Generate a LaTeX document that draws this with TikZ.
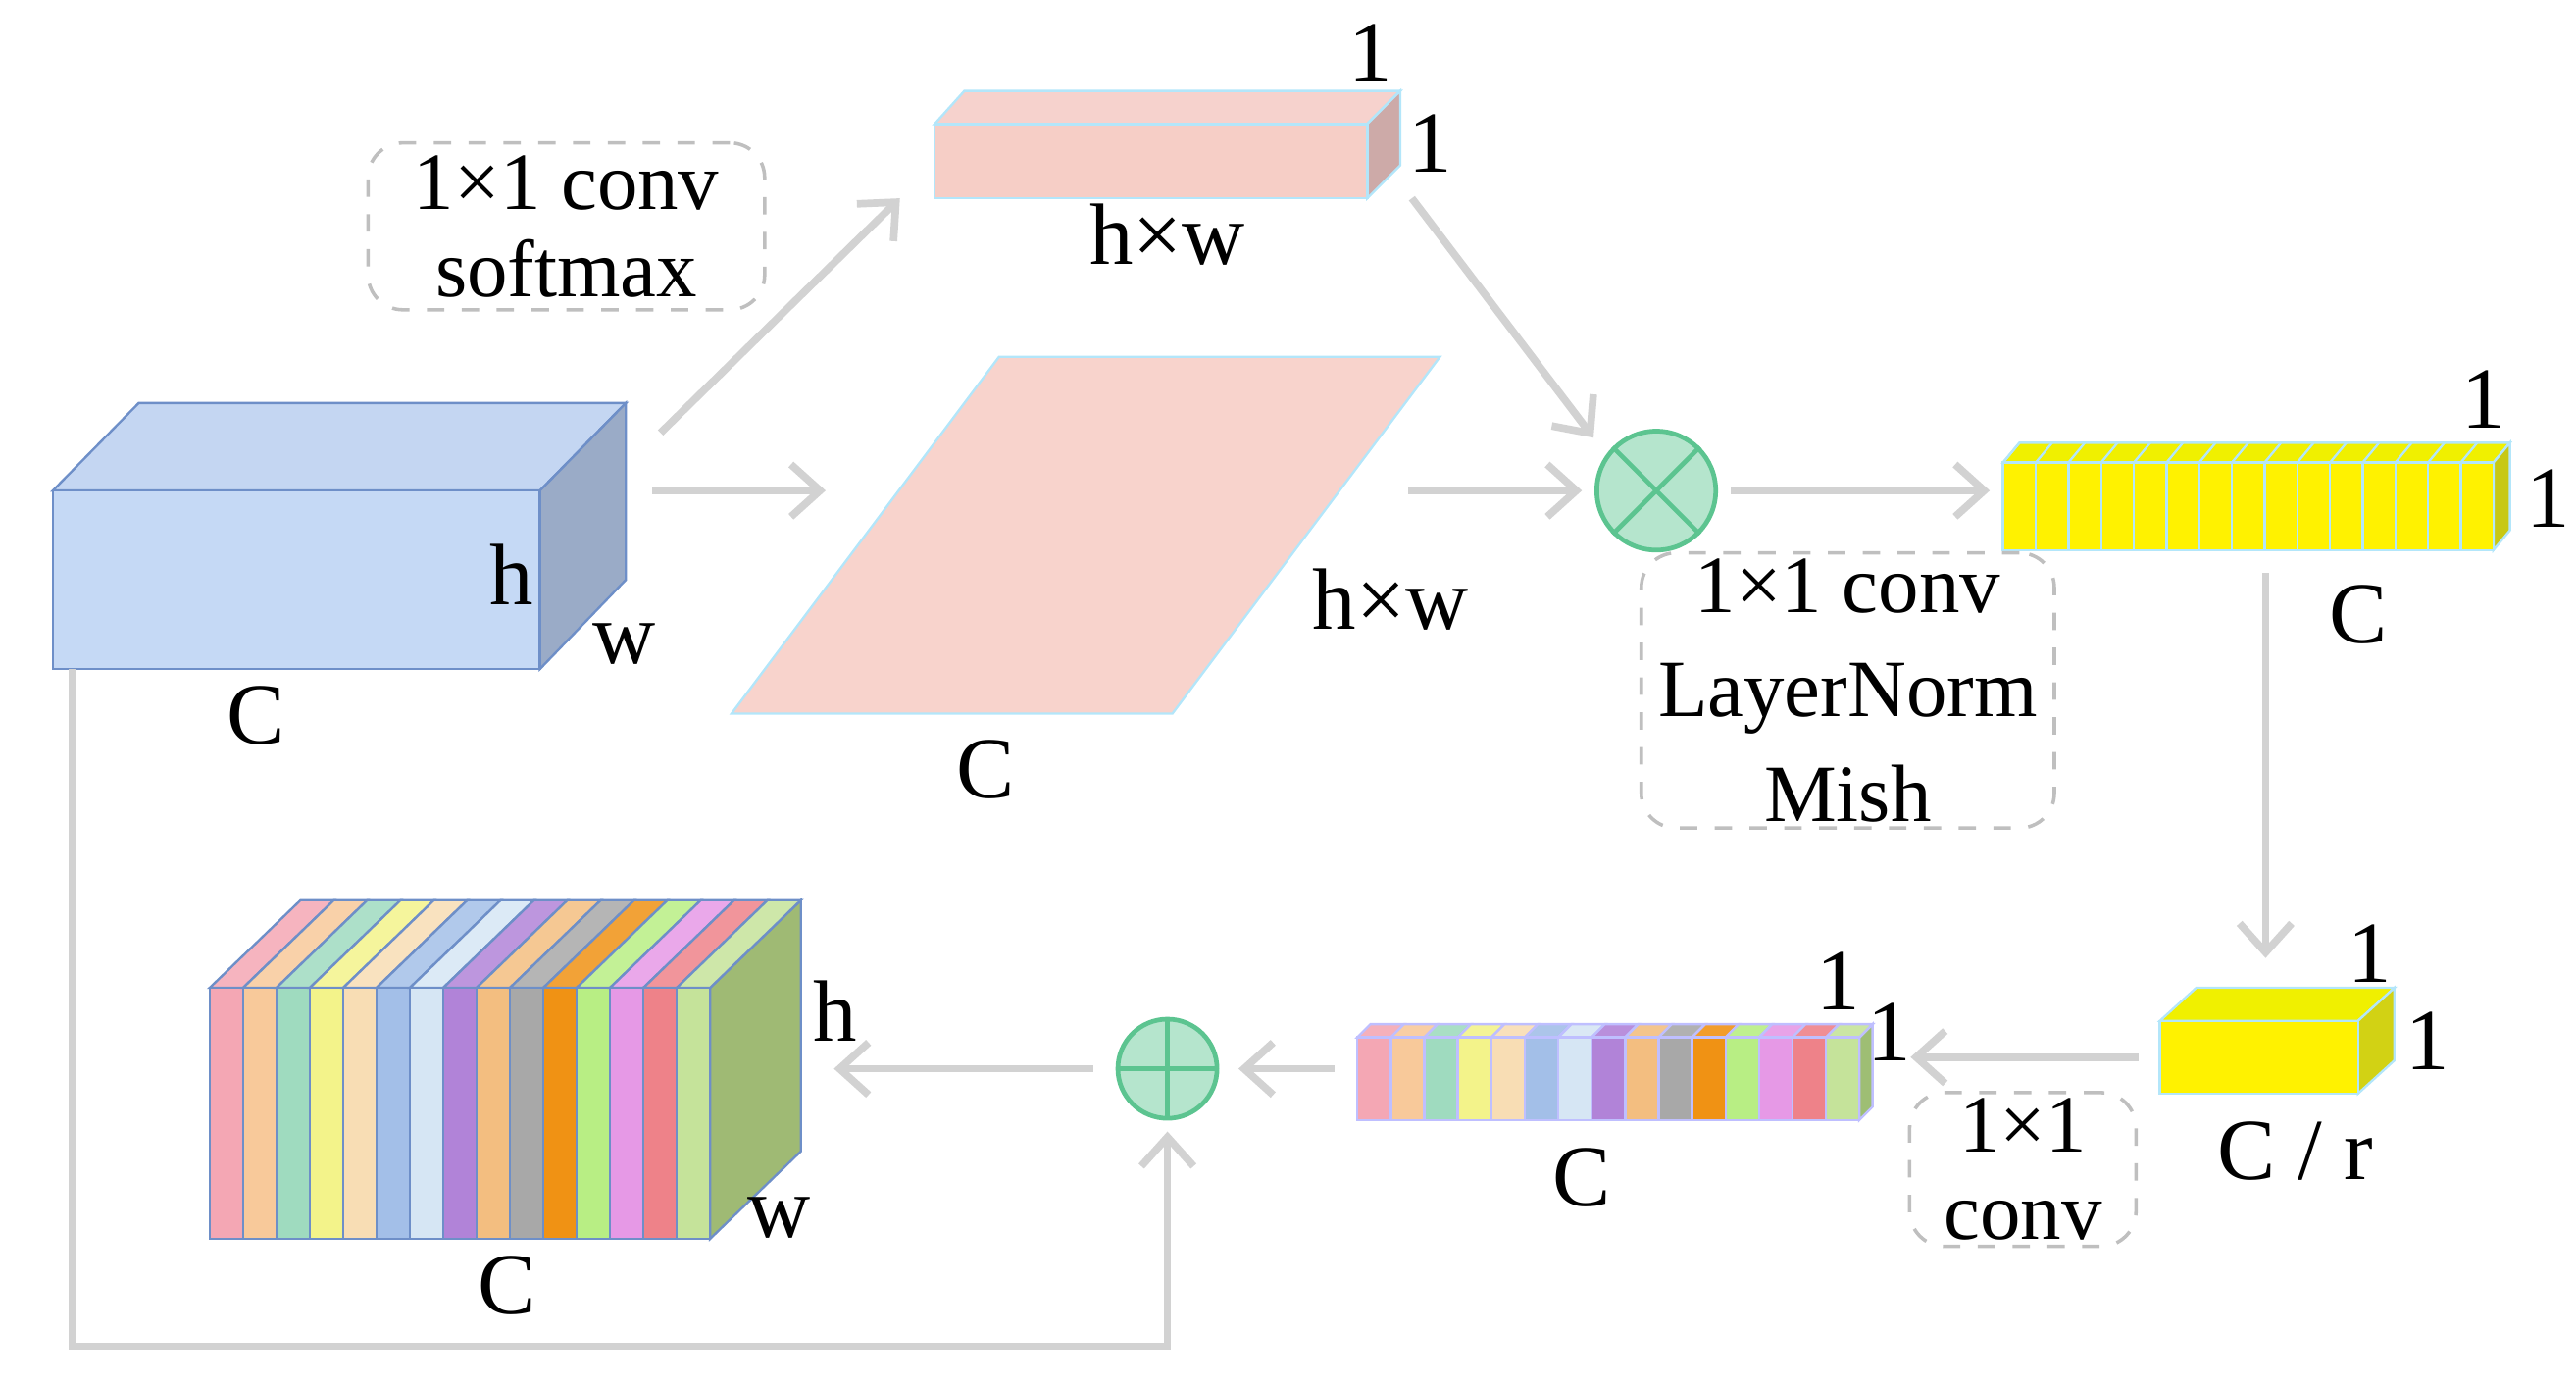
\documentclass[tikz,border=0pt]{standalone}
\usepackage{fontspec}
\setmainfont{Liberation Serif}
\usetikzlibrary{arrows.meta}
\definecolor{arr}{HTML}{D2D2D2}
\definecolor{edge}{HTML}{6E8FC8}
\definecolor{opf}{HTML}{B5E5CD}\definecolor{opd}{HTML}{5CC490}
\definecolor{c1}{HTML}{F4A7B4}\definecolor{c2}{HTML}{F8C99A}\definecolor{c3}{HTML}{9FDBBF}
\definecolor{c4}{HTML}{F3F38A}\definecolor{c5}{HTML}{F8DDB4}\definecolor{c6}{HTML}{A3BFE8}
\definecolor{c7}{HTML}{D6E6F4}\definecolor{c8}{HTML}{B183D8}\definecolor{c9}{HTML}{F3BE80}
\definecolor{c10}{HTML}{A8A8A8}\definecolor{c11}{HTML}{F09214}\definecolor{c12}{HTML}{B8EE84}
\definecolor{c13}{HTML}{E699E6}\definecolor{c14}{HTML}{EE8289}\definecolor{c15}{HTML}{C5E39A}
\tikzset{
 ar/.style={draw=arr,line width=1.3pt,-{Straight Barb[length=5pt,width=9pt]}},
 lbl/.style={font=\fontsize{15}{17}\selectfont,inner sep=0pt},
 dbox/.style={draw=black!25,dashed,rounded corners=6pt,line width=0.6pt,align=center,inner sep=1pt,font=\fontsize{14}{15}\selectfont},
 op/.style={circle,draw=opd,fill=opf,line width=0.8pt,minimum size=#1,inner sep=0pt}
}
\begin{document}
\begin{tikzpicture}[x=0.01cm,y=-0.01cm]
\useasboundingbox (0,0) rectangle (1560,838);
% blue box
\draw[draw=edge,fill={rgb,255:red,196;green,214;blue,242}] (32,297)--(84,244)--(379,244)--(327,297)--cycle;
\draw[draw=edge,fill={rgb,255:red,154;green,171;blue,199}] (327,297)--(379,244)--(379,351)--(327,405)--cycle;
\draw[draw=edge,fill={rgb,255:red,197;green,217;blue,245}] (32,297) rectangle (327,405);
\node[lbl] (bh) at (310,348) {h};
\node[lbl] (bw) at (378,390) {w};
\node[lbl] (bc) at (155,433) {C};
% dashed box 1
\node[dbox,minimum width=2.4cm,minimum height=1.01cm] (d1) at (343,137) {1×1 conv\\softmax};
% pink prism
\draw[draw=cyan!30,fill={rgb,255:red,246;green,210;blue,205}] (566,75)--(584,55)--(848,55)--(828,75)--cycle;
\draw[draw=cyan!30,fill={rgb,255:red,205;green,170;blue,168}] (828,75)--(848,55)--(848,100)--(828,120)--cycle;
\draw[draw=cyan!30,fill={rgb,255:red,246;green,206;blue,198}] (566,75) rectangle (828,120);
\node[lbl] (p1) at (830,32) {1};
\node[lbl] (p2) at (866,87) {1};
\node[lbl] (phw) at (707,142) {h×w};
% parallelogram
\draw[draw=cyan!30,fill={rgb,255:red,248;green,211;blue,204}] (443,432)--(710,432)--(872,216)--(605,216)--cycle;
\coordinate (parL) at (500,297);
\coordinate (parR) at (853,297);
\node[lbl] (qhw) at (842,363) {h×w};
\node[lbl] (qc) at (597,466) {C};
% otimes
\node[op=0.72cm] (ot) at (1003,297) {};
\draw[draw=opd,line width=0.8pt] (ot.north west)--(ot.south east) (ot.north east)--(ot.south west);
% yellow strip
\draw[draw=cyan!30,fill={rgb,255:red,240;green,240;blue,0}] (1213,280)--(1223,268)--(1520,268)--(1510,280)--cycle;
\draw[draw=cyan!30,fill={rgb,255:red,200;green,200;blue,20}] (1510,280)--(1520,268)--(1520,321)--(1510,333)--cycle;
\foreach \i in {0,...,14}{
 \draw[draw=cyan!30,fill=yellow] ({1213+\i*19.8},280) rectangle ({1213+(\i+1)*19.8},333);
 \draw[draw=cyan!30] ({1213+\i*19.8},280)--({1223+\i*19.8},268);}
\node[lbl] (y1) at (1504,242) {1};
\node[lbl] (y2) at (1543,302) {1};
\node[lbl] (yc) at (1428,372) {C};
\node[dbox,minimum width=2.5cm,minimum height=1.57cm] (d2) at (1119,418) {1×1 conv\\[3pt]LayerNorm\\[3pt]Mish};
% small yellow box
\draw[draw=cyan!30,fill={rgb,255:red,240;green,240;blue,0}] (1308,618)--(1330,598)--(1450,598)--(1428,618)--cycle;
\draw[draw=cyan!30,fill={rgb,255:red,210;green,210;blue,20}] (1428,618)--(1450,598)--(1450,642)--(1428,662)--cycle;
\draw[draw=cyan!30,fill=yellow] (1308,618) rectangle (1428,662);
\node[lbl] (s1) at (1435,577) {1};
\node[lbl] (s2) at (1470,630) {1};
\node[lbl] (scr) at (1390,697) {C / r};
\node[dbox,minimum width=1.37cm,minimum height=0.93cm] (d3) at (1225,708) {1×1\\conv};
% colored strip
\draw[draw=blue!25,fill={rgb,255:red,158;green,190;blue,116}] (1126,628)--(1134,620)--(1134,670)--(1126,678)--cycle;
\foreach \i in {1,...,15}{
 \draw[draw=blue!25,fill=c\i!90] ({822+(\i-1)*20.27},628)--({830+(\i-1)*20.27},620)--({830+\i*20.27},620)--({822+\i*20.27},628)--cycle;
 \draw[draw=blue!25,fill=c\i] ({822+(\i-1)*20.27},628) rectangle ({822+\i*20.27},678);}
\node[lbl] (t1) at (1113,594) {1};
\node[lbl] (t2) at (1144,625) {1};
\node[lbl] (tc) at (958,713) {C};
% oplus
\node[op=0.6cm] (opl) at (707,647) {};
\draw[draw=opd,line width=0.8pt] (opl.north)--(opl.south) (opl.west)--(opl.east);
% colorful block
\draw[draw=edge,fill={rgb,255:red,159;green,186;blue,116}] (430,598)--(485,545)--(485,697)--(430,750)--cycle;
\foreach \i in {1,...,15}{
 \draw[draw=edge,fill=c\i!85] ({127+(\i-1)*20.2},598)--({182+(\i-1)*20.2},545)--({182+\i*20.2},545)--({127+\i*20.2},598)--cycle;
 \draw[draw=edge,fill=c\i] ({127+(\i-1)*20.2},598) rectangle ({127+\i*20.2},750);}
\node[lbl] (oh) at (506,612) {h};
\node[lbl] (ow) at (472,737) {w};
\node[lbl] (oc) at (307,778) {C};
% arrows
\coordinate (a1s) at (400,262); \coordinate (a1e) at (545,120);
\draw[ar] (a1s)--(a1e);
\coordinate (a2s) at (395,297);
\draw[ar] (a2s)--(parL);
\coordinate (a3s) at (855,120); \coordinate (a3e) at (965,265);
\draw[ar] (a3s)--(a3e);
\coordinate (a3f) at (958,297);
\draw[ar] (parR)--(a3f);
\coordinate (a4s) at (1048,297); \coordinate (a4e) at (1205,297);
\draw[ar] (a4s)--(a4e);
\coordinate (a5s) at (1372,347); \coordinate (a5e) at (1372,580);
\draw[ar] (a5s)--(a5e);
\coordinate (a6s) at (1295,640); \coordinate (a6e) at (1157,640);
\draw[ar] (a6s)--(a6e);
\coordinate (a7s) at (808,647); \coordinate (a7e) at (750,647);
\draw[ar] (a7s)--(a7e);
\coordinate (a8s) at (662,647); \coordinate (a8e) at (505,647);
\draw[ar] (a8s)--(a8e);
\coordinate (sk) at (44,405); \coordinate (ske) at (707,685);
\draw[ar] (sk)--(44,815)--(707,815)--(ske);
\end{tikzpicture}
\end{document}
